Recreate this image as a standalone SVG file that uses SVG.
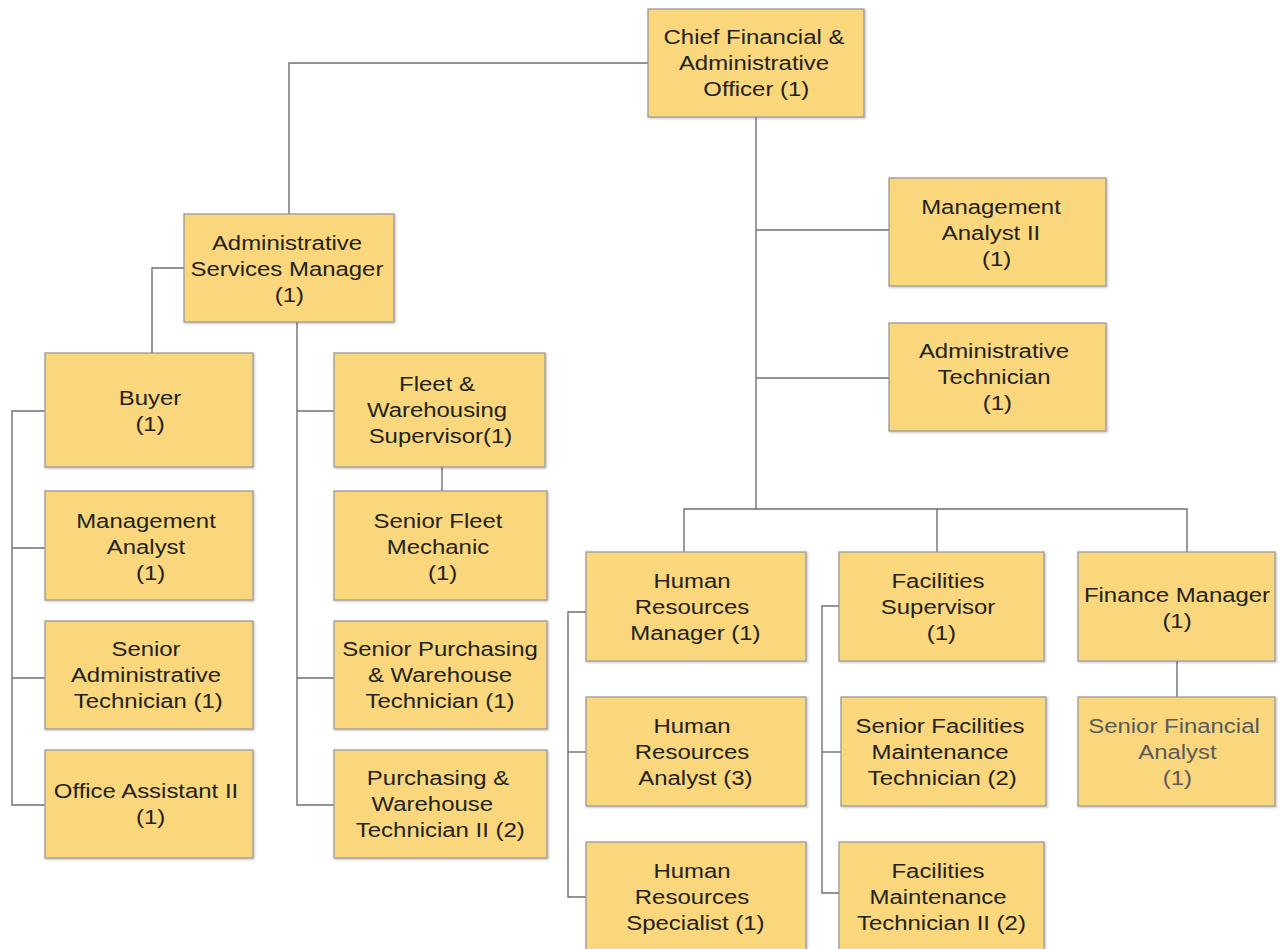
<svg xmlns="http://www.w3.org/2000/svg" width="1281" height="949" viewBox="0 0 1281 949">
<style>
.n rect{fill:#FAD77B;stroke:#9a9a9a;stroke-width:1.3;filter:url(#sh)}
.n text{font-family:"Liberation Sans",Arial,sans-serif;font-size:21px;fill:#222;text-anchor:middle;dominant-baseline:central}
.g text{fill:#5a5a5a}
.c path{fill:none;stroke:#6f6f6f;stroke-width:1.4}
</style>
<defs>
<filter id="sh" x="-5%" y="-5%" width="115%" height="115%"><feDropShadow dx="1" dy="1" stdDeviation="1.2" flood-color="#000" flood-opacity="0.25"/></filter>
</defs>
<rect width="1281" height="949" fill="#fff"/>
<g class="c">
<path d="M648 63H289V214"/>
<path d="M756 117V509"/>
<path d="M756 230H889"/>
<path d="M756 378H889"/>
<path d="M684 552V509H1187V552"/>
<path d="M937 509V552"/>
<path d="M1177 661V697"/>
<path d="M586 612H568V897H586"/>
<path d="M568 752H586"/>
<path d="M839 606H822V893H839"/>
<path d="M822 752H841"/>
<path d="M184 268H152V353"/>
<path d="M45 411H12V805H45"/>
<path d="M12 548H45"/>
<path d="M12 678H45"/>
<path d="M297 322V805H334"/>
<path d="M297 411H334"/>
<path d="M297 678H334"/>
<path d="M442 467V491"/>
</g>
<g id="cfo" class="n"><rect x="648" y="9" width="216" height="108"/><g transform="translate(754 0) scale(1.14 1)"><text x="0" y="37">Chief Financial &amp;</text><text x="0" y="63">Administrative</text><text x="2" y="89">Officer (1)</text></g></g>
<g id="asm" class="n"><rect x="184" y="214" width="210" height="108"/><g transform="translate(287 0) scale(1.14 1)"><text x="0" y="243">Administrative</text><text x="0" y="269">Services Manager</text><text x="2" y="295">(1)</text></g></g>
<g id="ma2" class="n"><rect x="889" y="178" width="217" height="108"/><g transform="translate(991 0) scale(1.14 1)"><text x="0" y="207">Management</text><text x="0" y="233">Analyst II</text><text x="5" y="259">(1)</text></g></g>
<g id="admintech" class="n"><rect x="889" y="323" width="217" height="108"/><g transform="translate(994 0) scale(1.14 1)"><text x="0" y="351">Administrative</text><text x="0" y="377">Technician</text><text x="3" y="403">(1)</text></g></g>
<g id="buyer" class="n"><rect x="45" y="353" width="208" height="114"/><g transform="translate(150 0) scale(1.14 1)"><text x="0" y="398">Buyer</text><text x="0" y="424">(1)</text></g></g>
<g id="ma" class="n"><rect x="45" y="491" width="208" height="109"/><g transform="translate(146 0) scale(1.14 1)"><text x="0" y="521">Management</text><text x="0" y="547">Analyst</text><text x="4" y="573">(1)</text></g></g>
<g id="sat" class="n"><rect x="45" y="621" width="208" height="108"/><g transform="translate(146 0) scale(1.14 1)"><text x="0" y="649">Senior</text><text x="0" y="675">Administrative</text><text x="2" y="701">Technician (1)</text></g></g>
<g id="oa2" class="n"><rect x="45" y="750" width="208" height="108"/><g transform="translate(146 0) scale(1.14 1)"><text x="0" y="791">Office Assistant II</text><text x="4" y="817">(1)</text></g></g>
<g id="fws" class="n"><rect x="334" y="353" width="211" height="114"/><g transform="translate(437 0) scale(1.14 1)"><text x="0" y="384">Fleet &amp;</text><text x="0" y="410">Warehousing</text><text x="3" y="436">Supervisor(1)</text></g></g>
<g id="sfm" class="n"><rect x="334" y="491" width="213" height="109"/><g transform="translate(438 0) scale(1.14 1)"><text x="0" y="521">Senior Fleet</text><text x="0" y="547">Mechanic</text><text x="4" y="573">(1)</text></g></g>
<g id="spwt" class="n"><rect x="334" y="621" width="213" height="108"/><g transform="translate(440 0) scale(1.14 1)"><text x="0" y="649">Senior Purchasing</text><text x="0" y="675">&amp; Warehouse</text><text x="0" y="701">Technician (1)</text></g></g>
<g id="pwt2" class="n"><rect x="334" y="750" width="213" height="108"/><g transform="translate(438 0) scale(1.14 1)"><text x="0" y="778">Purchasing &amp;</text><text x="-5" y="804">Warehouse</text><text x="2" y="830">Technician II (2)</text></g></g>
<g id="hrm" class="n"><rect x="586" y="552" width="220" height="109"/><g transform="translate(692 0) scale(1.14 1)"><text x="0" y="581">Human</text><text x="0" y="607">Resources</text><text x="3" y="633">Manager (1)</text></g></g>
<g id="hra" class="n"><rect x="586" y="697" width="220" height="109"/><g transform="translate(692 0) scale(1.14 1)"><text x="0" y="726">Human</text><text x="0" y="752">Resources</text><text x="3" y="778">Analyst (3)</text></g></g>
<g id="hrs" class="n"><rect x="586" y="842" width="220" height="112"/><g transform="translate(692 0) scale(1.14 1)"><text x="0" y="871">Human</text><text x="0" y="897">Resources</text><text x="3" y="923">Specialist (1)</text></g></g>
<g id="fs" class="n"><rect x="839" y="552" width="205" height="109"/><g transform="translate(938 0) scale(1.14 1)"><text x="0" y="581">Facilities</text><text x="0" y="607">Supervisor</text><text x="3" y="633">(1)</text></g></g>
<g id="sfmt" class="n"><rect x="841" y="697" width="205" height="109"/><g transform="translate(940 0) scale(1.14 1)"><text x="0" y="726">Senior Facilities</text><text x="0" y="752">Maintenance</text><text x="2" y="778">Technician (2)</text></g></g>
<g id="fmt2" class="n"><rect x="839" y="842" width="205" height="112"/><g transform="translate(938 0) scale(1.14 1)"><text x="0" y="871">Facilities</text><text x="0" y="897">Maintenance</text><text x="3" y="923">Technician II (2)</text></g></g>
<g id="fm" class="n"><rect x="1078" y="552" width="197" height="109"/><g transform="translate(1177 0) scale(1.14 1)"><text x="0" y="595">Finance Manager</text><text x="0" y="621">(1)</text></g></g>
<g id="sfa" class="n g"><rect x="1078" y="697" width="197" height="109"/><g transform="translate(1174 0) scale(1.14 1)"><text x="0" y="726">Senior Financial</text><text x="3" y="752">Analyst</text><text x="3" y="778">(1)</text></g></g>
</svg>
